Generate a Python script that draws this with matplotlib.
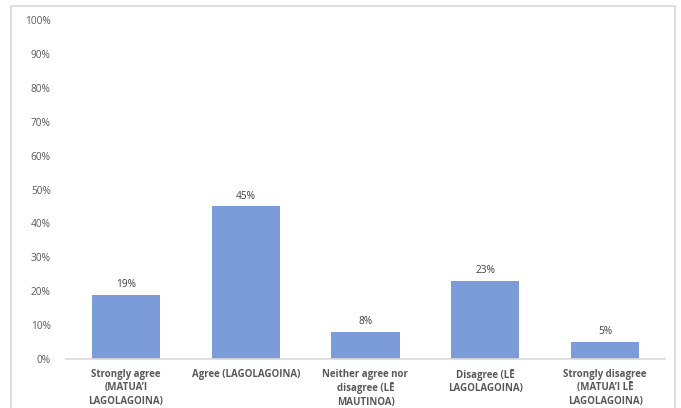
import matplotlib.pyplot as plt
from matplotlib.patches import Rectangle
from matplotlib.ticker import PercentFormatter

categories = [
    "Strongly agree\n(MATUA\u2019I\nLAGOLAGOINA)",
    "Agree (LAGOLAGOINA)",
    "Neither agree nor\ndisagree (L\u0112\nMAUTINOA)",
    "Disagree (L\u0112\nLAGOLAGOINA)",
    "Strongly disagree\n(MATUA\u2019I L\u0112\nLAGOLAGOINA)",
]
values = [19, 45, 8, 23, 5]
value_labels = ["19%", "45%", "8%", "23%", "5%"]

plt.rcParams["font.family"] = ["Open Sans", "DejaVu Sans"]

fig = plt.figure(figsize=(6.81, 4.08), dpi=100)
fig.patch.set_facecolor("white")

# outer chart frame
fig.patches.append(Rectangle((11 / 681, -0.05), 664 / 681, 1 - 6 / 408 + 0.05,
                             transform=fig.transFigure, fill=False,
                             edgecolor="#d9d9d9", linewidth=1.2))

ax = fig.add_axes([66 / 681, 1 - 359 / 408, 599 / 681, 339 / 408])
x = range(len(values))
ax.bar(x, values, width=0.57, color="#7b9cd8")
for i, (v, lab) in enumerate(zip(values, value_labels)):
    ax.text(i, v + 1.4, lab, ha="center", va="bottom", fontsize=7.3,
            color="#404040")

ax.set_xlim(-0.5, len(values) - 0.5)
ax.set_ylim(0, 100)
ax.set_yticks(range(0, 101, 10))
ax.yaxis.set_major_formatter(PercentFormatter(decimals=0))
ax.set_xticks(list(x))
ax.set_xticklabels(categories, fontsize=7, fontweight="bold", color="#595959",
                   linespacing=1.3)
ax.tick_params(axis="y", length=0, labelsize=7.3, labelcolor="#595959", pad=11)
ax.tick_params(axis="x", length=0, pad=7)
for side in ["top", "right", "left"]:
    ax.spines[side].set_visible(False)
ax.spines["bottom"].set_color("#d9d9d9")
ax.spines["bottom"].set_linewidth(1.2)

fig.savefig("out.png", dpi=100, facecolor="white")
